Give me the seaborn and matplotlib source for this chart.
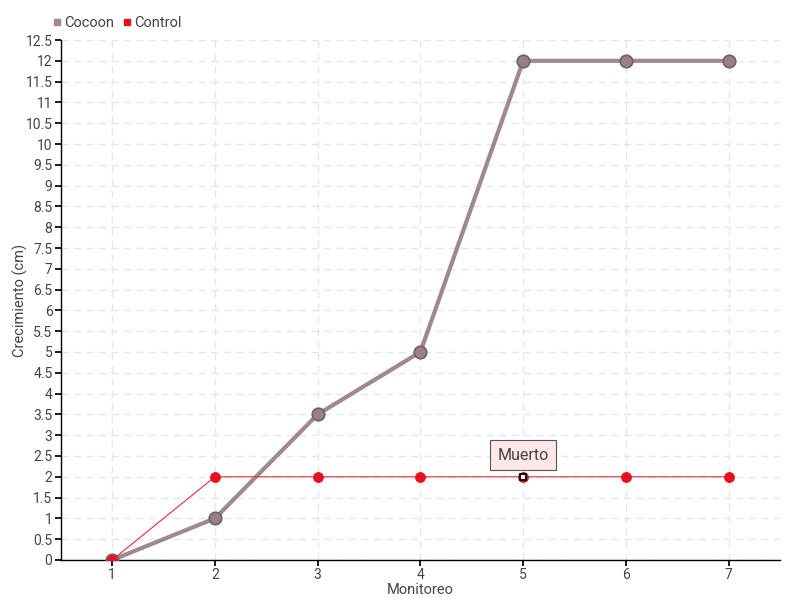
import pandas as pd
import seaborn as sns
import matplotlib.pyplot as plt
import numpy as np

monitoreo = [1, 2, 3, 4, 5, 6, 7]
cocoon = [0, 1, 3.5, 5, 12, 12, 12]
control = [0, 2, 2, 2, 2, 2, 2]
y_ticks = np.arange(0, 13, 0.5)

df = pd.DataFrame({'Monitoreo': monitoreo, 'Cocoon': cocoon, 'Control': control})

sns.set_theme(style='white')
plt.rcParams['font.family'] = ['Roboto', 'DejaVu Sans']

fig = plt.figure(figsize=(8, 6), dpi=100)
ax = fig.add_axes([0.076, 0.0667, 0.899, 0.8666])

cocoon_col = '#a08890'
control_col = '#ee2a3a'

sns.lineplot(data=df, x='Monitoreo', y='Cocoon', ax=ax, color=cocoon_col, linewidth=3,
             marker='o', markersize=9, markerfacecolor='#9a7f88', markeredgecolor='#6e6266',
             markeredgewidth=1.2, label='Cocoon', zorder=3)
sns.lineplot(data=df, x='Monitoreo', y='Control', ax=ax, color=control_col, linewidth=0.8,
             marker='o', markersize=7, markerfacecolor='#e8101f', markeredgecolor='#e8101f',
             label='Control', zorder=4)

# punto donde murió el control
ax.plot(5, 2, marker='s', markersize=5, markerfacecolor='white', markeredgecolor='black',
        markeredgewidth=1.3, zorder=6)
ax.annotate('Muerto', xy=(5, 2), xytext=(5, 2.52), ha='center', va='center', fontsize=11.5,
            color='#444444',
            bbox=dict(boxstyle='square,pad=0.45', fc='#fde8e8', ec='#555555', lw=0.8),
            zorder=7)

ax.set_xlim(0.5, 7.5)
ax.set_ylim(0, 12.5)
ax.set_xticks(monitoreo)
ax.set_yticks(y_ticks)
ax.set_yticklabels([f'{v:g}' for v in y_ticks])
ax.grid(True, color='#e6e6e6', linestyle=(0, (5, 4)), linewidth=1)
ax.set_axisbelow(True)
for s in ['top', 'right']:
    ax.spines[s].set_visible(False)
for s in ['left', 'bottom']:
    ax.spines[s].set_color('black')
    ax.spines[s].set_linewidth(1)
ax.tick_params(axis='both', which='major', length=4, color='black', labelsize=10,
               labelcolor='#444444', direction='out', left=True, bottom=True, pad=2)

ax.set_xlabel('Monitoreo', fontsize=10.5, color='#444444')
ax.set_ylabel('Crecimiento (cm)', fontsize=10.5, color='#444444')
ax.xaxis.set_label_coords(0.5, -0.044)
ax.yaxis.set_label_coords(-0.046, 0.5)

handles = [plt.Line2D([], [], marker='s', linestyle='', color=cocoon_col, markersize=5),
           plt.Line2D([], [], marker='s', linestyle='', color='#e8101f', markersize=5)]
ax.legend(handles, ['Cocoon', 'Control'], loc='lower left', bbox_to_anchor=(-0.022, 1.008),
          ncol=2, frameon=False, fontsize=10.5, handletextpad=0.1, columnspacing=0.5,
          handlelength=0.8, borderaxespad=0, labelcolor='#444444')

fig.savefig('out.png', dpi=100)
